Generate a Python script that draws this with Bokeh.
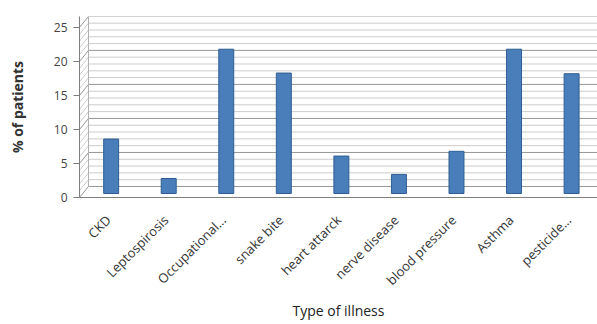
import math
from bokeh.plotting import figure
from bokeh.models import ColumnDataSource, Range1d, FixedTicker
from bokeh.embed import file_html
from bokeh.resources import INLINE

# ---- data ----
illnesses = ["CKD", "Leptospirosis", "Occupational\u2026", "snake bite", "heart attarck",
             "nerve disease", "blood pressure", "Asthma", "pesticide\u2026"]
percent_patients = [8.0, 2.2, 21.2, 17.7, 5.5, 2.8, 6.2, 21.2, 17.6]
y_ticks = [0, 5, 10, 15, 20, 25]
wall_levels = list(range(0, 26))   # back-wall gridlines, every 1 unit

# ---- styling constants ----
BAR_FILL = "#4a7ebb"
BAR_LINE = "#2f5d93"
Y_MAX = 26.6          # includes back-wall top
WALL_OFF = 1.62       # back wall offset (3D look), in value units
BAR_OFF = 0.59        # bars sit mid-depth
BAR_SHIFT = 0.05      # bars sit mid-depth (horizontal)
FRAME_W = 518
WALL_DX = 9           # back wall horizontal offset, px

n = len(illnesses)
centers = [i + 0.5 for i in range(n)]

p = figure(width=597, height=324, output_backend="svg", toolbar_location=None,
           x_range=Range1d(0, n), y_range=Range1d(0, Y_MAX),
           min_border_left=79, min_border_right=0, min_border_top=16,
           min_border_bottom=127)
p.background_fill_color = "white"
p.border_fill_color = "white"
p.outline_line_color = None
p.xgrid.visible = False
p.ygrid.visible = False

p.extra_y_ranges = {"wall": Range1d(-WALL_OFF, Y_MAX - WALL_OFF),
                    "bars": Range1d(-BAR_OFF, Y_MAX - BAR_OFF)}
p.extra_x_ranges = {"px": Range1d(0, FRAME_W)}

# back wall gridlines
minor = [v for v in wall_levels if v % 5 != 0]
major = [v for v in wall_levels if v % 5 == 0]
p.segment(x0=WALL_DX, x1=FRAME_W, y0=minor, y1=minor, line_color="#cccccc",
          line_width=1, x_range_name="px", y_range_name="wall")
p.segment(x0=WALL_DX, x1=FRAME_W, y0=major, y1=major, line_color="#969696",
          line_width=1, x_range_name="px", y_range_name="wall")
# left side wall diagonals
p.segment(x0=0, x1=WALL_DX, y0=minor, y1=[v + WALL_OFF for v in minor],
          line_color="#cccccc", line_width=1, x_range_name="px")
p.segment(x0=0, x1=WALL_DX, y0=major, y1=[v + WALL_OFF for v in major],
          line_color="#969696", line_width=1, x_range_name="px")
# back-wall left edge
p.segment(x0=WALL_DX, x1=WALL_DX, y0=0, y1=25, line_color="#b0b0b0",
          line_width=1, x_range_name="px", y_range_name="wall")

# bars
src = ColumnDataSource(dict(x=[c + BAR_SHIFT for c in centers], val=percent_patients))
p.vbar(x="x", top="val", bottom=0, width=0.26, source=src,
       fill_color=BAR_FILL, line_color=BAR_LINE, line_width=1, y_range_name="bars")

# axes
yax = p.yaxis[0]
yax.ticker = FixedTicker(ticks=y_ticks)
yax.axis_line_color = "#7f7f7f"
yax.major_tick_line_color = "#7f7f7f"
yax.major_tick_out = 6
yax.major_tick_in = 0
yax.minor_tick_line_color = None
yax.major_label_standoff = 6
yax.major_label_text_font = "Open Sans"
yax.major_label_text_font_size = "12px"
yax.major_label_text_color = "#444444"
yax.axis_label = "% of patients"
yax.axis_label_text_font = "Open Sans"
yax.axis_label_text_font_size = "14px"
yax.axis_label_text_font_style = "bold"
yax.axis_label_text_color = "#333333"
yax.axis_label_standoff = 24

xax = p.xaxis[0]
xax.ticker = FixedTicker(ticks=centers)
xax.major_label_overrides = {c: name for c, name in zip(centers, illnesses)}
xax.axis_line_color = "#7f7f7f"
xax.major_tick_line_color = None
xax.minor_tick_line_color = None
xax.major_label_orientation = math.pi / 4
xax.major_label_standoff = 14
xax.major_label_text_font = "Open Sans"
xax.major_label_text_font_size = "13px"
xax.major_label_text_color = "#333333"
xax.axis_label = "Type of illness"
xax.axis_label_text_font = "Open Sans"
xax.axis_label_text_font_size = "14px"
xax.axis_label_text_font_style = "normal"
xax.axis_label_text_color = "#222222"
xax.axis_label_standoff = 3

open("out.html", "w").write(file_html(p, INLINE))
